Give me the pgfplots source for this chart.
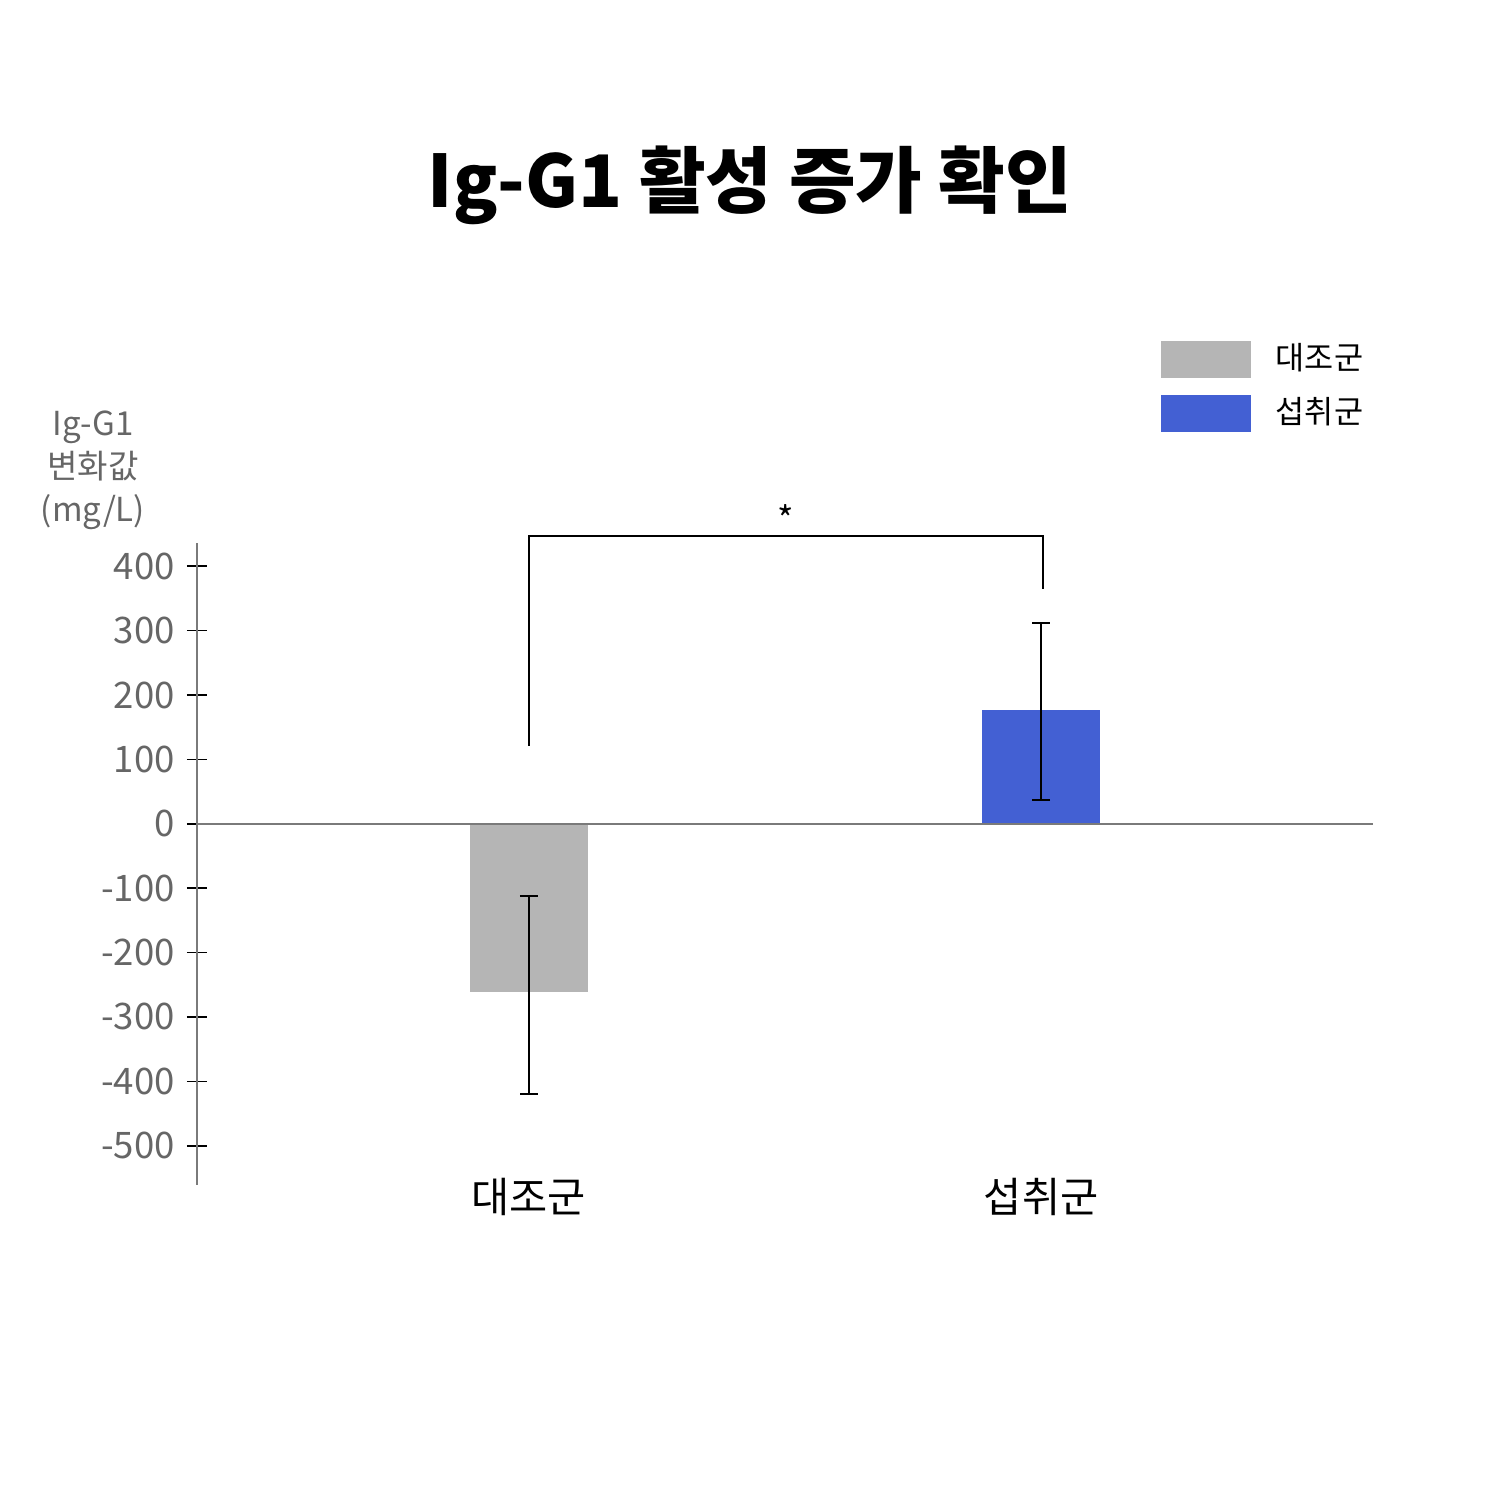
\documentclass[border=0pt]{standalone}
\usepackage{fontspec}
\setmainfont{Noto Sans CJK KR}
\usepackage{pgfplots}
\pgfplotsset{compat=1.18}

\definecolor{ctrlgray}{HTML}{B5B5B5}
\definecolor{intakeblue}{HTML}{4360D3}
\definecolor{labelgray}{HTML}{666666}
\definecolor{axisgray}{HTML}{7A7A7A}

\begin{document}
\begin{tikzpicture}
\path[use as bounding box] (0,0) rectangle (15cm,15cm);

% title
\node[font=\fontsize{20.6}{25}\selectfont\bfseries] at (7.5cm,13.15cm) {Ig-G1 활성 증가 확인};

% y label (three lines, above the axis)
\node[align=center, text=labelgray, font=\fontsize{9.4}{12.2}\selectfont] at (0.93cm,10.3cm) {Ig-G1\\변화값\\(mg/L)};

\begin{axis}[
    at={(1.97cm,3.15cm)}, anchor=south west,
    scale only axis, width=11.76cm, height=6.42cm,
    xmin=-0.648, xmax=1.648,
    ymin=-561, ymax=436,
    axis y line=left, axis x line=bottom,
    axis line style={-},
    y axis line style={axisgray, line width=0.45pt},
    x axis line style={draw=none},
    xtick={0,1},
    xticklabels={대조군,섭취군},
    major x tick style={draw=none},
    xticklabel style={font=\fontsize{11.8}{13}\selectfont, anchor=center, yshift=0.08cm},
    ytick={-500,-400,...,400},
    tick align=center,
    major tick length=0.2cm,
    ytick style={black, line width=0.45pt},
    yticklabel style={text=labelgray, font=\fontsize{10.4}{12}\selectfont},
    /pgf/number format/assume math mode=true,
    ybar, bar width=0.23, bar shift=0pt,
    legend cell align=left,
    legend style={at={(rel axis cs:0.819,1.316)}, anchor=north west,
        draw=none, fill=none, inner sep=0pt,
        font=\fontsize{9}{10}\selectfont, row sep=0.17cm,
        nodes={inner ysep=0pt, inner xsep=0.25cm}},
    clip=false,
]
\addplot[fill=ctrlgray, draw=none,
    legend image code/.code={\fill[ctrlgray] (0cm,-0.185cm) rectangle (0.9cm,0.185cm);},
    error bars/.cd, y dir=both, y explicit,
    error bar style={draw=black, line width=0.6pt},
    error mark options={draw=black, rotate=90, mark size=0.09cm, line width=0.6pt}]
    coordinates {(0,-262) += (0,150) -= (0,157)};
\addlegendentry{대조군}
\addplot[fill=intakeblue, draw=none,
    legend image code/.code={\fill[intakeblue] (0cm,-0.185cm) rectangle (0.9cm,0.185cm);},
    error bars/.cd, y dir=both, y explicit,
    error bar style={draw=black, line width=0.6pt},
    error mark options={draw=black, rotate=90, mark size=0.09cm, line width=0.6pt}]
    coordinates {(1,177) += (0,135) -= (0,140)};
\addlegendentry{섭취군}

% zero line
\draw[axisgray, line width=0.45pt] (axis cs:-0.648,0) -- (axis cs:1.648,0);

% significance bracket
\draw[black, line width=0.6pt] (axis cs:0,121) -- (axis cs:0,447) -- (axis cs:1.004,447) -- (axis cs:1.004,365);
\node[font=\fontsize{10}{12}\selectfont] at (axis cs:0.502,474) {*};
\end{axis}
\end{tikzpicture}
\end{document}
